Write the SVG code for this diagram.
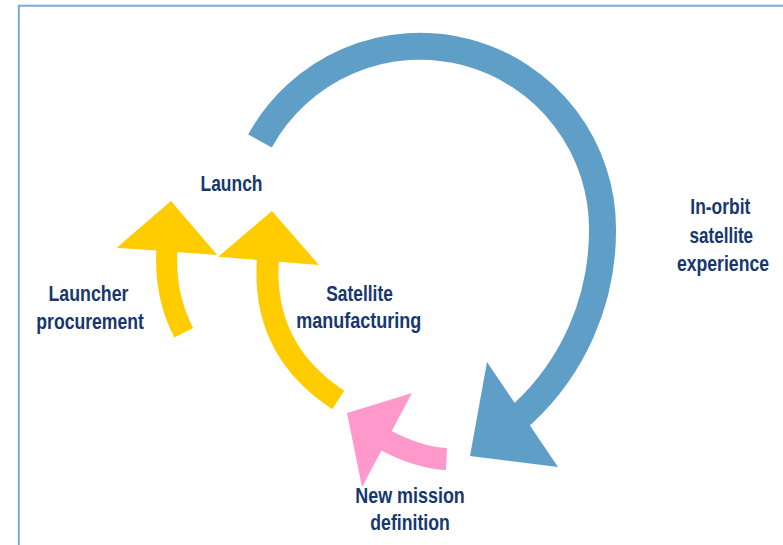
<svg xmlns="http://www.w3.org/2000/svg" width="783" height="545" viewBox="0 0 783 545">
  <style>
    .lbl { font-family: "Liberation Sans", Arial, sans-serif; font-weight: bold; font-size: 22px; fill: #17376e; }
    .frame { fill: none; stroke: #79acd6; stroke-width: 2; }
    .shaft { fill: none; stroke-linecap: butt; }
    .blue { stroke: #5f9fc7; }
    .blueFill { fill: #5f9fc7; }
    .yellow { stroke: #ffcc00; }
    .yellowFill { fill: #ffcc00; }
    .pink { stroke: #ff99cc; }
    .pinkFill { fill: #ff99cc; }
  </style>

  <!-- page frame -->
  <rect class="frame" x="18.8" y="5.7" width="800" height="600"/>

  <!-- curved arrows of the cycle -->
  <g id="connectors">
    <!-- Launcher procurement to Launch -->
    <path class="shaft yellow" stroke-width="21" d="M183.7,332.7 Q164,294.5 167,249"/>
    <polygon class="yellowFill" points="171,201 116.7,247.7 217.3,255"/>

    <!-- Satellite manufacturing to Launch -->
    <path class="shaft yellow" stroke-width="22" d="M338.3,400 Q260.9,349.3 268,258"/>
    <polygon class="yellowFill" points="272,211 218.3,256.7 319,265"/>

    <!-- New mission definition to Satellite manufacturing -->
    <path class="shaft pink" stroke-width="22" d="M446.5,459 Q418,457.6 385,440"/>
    <polygon class="pinkFill" points="347,413 412,393 362,487"/>

    <!-- In-orbit experience loop back to New mission definition -->
    <path class="shaft blue" stroke-width="27" d="M260,141 A182.5,182.5 0 0 1 602.5,231 A249.3,249.3 0 0 1 522.5,414 L516,419"/>
    <polygon class="blueFill" points="470,456 487,362 558,467"/>
  </g>

  <g id="launch">
    <text class="lbl" x="200.5" y="190.5" textLength="62" lengthAdjust="spacingAndGlyphs">Launch</text>
  </g>

  <g id="launcher-procurement">
    <text class="lbl" x="48.5" y="300.5" textLength="80" lengthAdjust="spacingAndGlyphs">Launcher</text>
    <text class="lbl" x="36.3" y="328.5" textLength="107.5" lengthAdjust="spacingAndGlyphs">procurement</text>
  </g>

  <g id="satellite-manufacturing">
    <text class="lbl" x="326.3" y="300.5" textLength="66.5" lengthAdjust="spacingAndGlyphs">Satellite</text>
    <text class="lbl" x="296.3" y="328" textLength="125" lengthAdjust="spacingAndGlyphs">manufacturing</text>
  </g>

  <g id="in-orbit-experience">
    <text class="lbl" x="690.3" y="213.5" textLength="60" lengthAdjust="spacingAndGlyphs">In-orbit</text>
    <text class="lbl" x="689.6" y="242.5" textLength="63.5" lengthAdjust="spacingAndGlyphs">satellite</text>
    <text class="lbl" transform="translate(677,271) scale(0.8,1)" x="0" y="0" textLength="115" lengthAdjust="spacingAndGlyphs">experience</text>
  </g>

  <g id="new-mission-definition">
    <text class="lbl" x="355.3" y="502.5" textLength="109.5" lengthAdjust="spacingAndGlyphs">New mission</text>
    <text class="lbl" x="370.3" y="530" textLength="79.5" lengthAdjust="spacingAndGlyphs">definition</text>
  </g>
</svg>
